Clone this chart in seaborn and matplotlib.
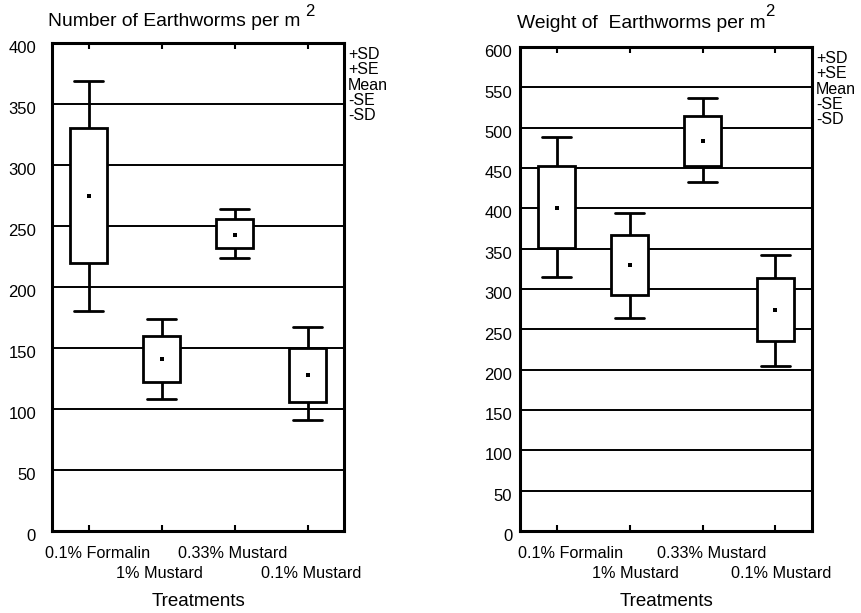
import numpy as np
import pandas as pd
import matplotlib
matplotlib.use("Agg")
import matplotlib.pyplot as plt
import seaborn as sns
from matplotlib.transforms import ScaledTranslation

# ---- data ----
treatments = ["0.1% Formalin", "1% Mustard", "0.33% Mustard", "0.1% Mustard"]

num_minus_sd = [180, 108, 224, 91]
num_minus_se = [220, 122, 232, 106]
num_mean     = [275, 141, 243, 128]
num_plus_se  = [330, 160, 256, 150]
num_plus_sd  = [369, 174, 264, 167]

wt_minus_sd = [315, 264, 433, 204]
wt_minus_se = [351, 292, 452, 236]
wt_mean     = [400, 330, 484, 274]
wt_plus_se  = [452, 367, 515, 314]
wt_plus_sd  = [489, 394, 537, 342]

num_ticks = [0, 50, 100, 150, 200, 250, 300, 350, 400]
wt_ticks = [0, 50, 100, 150, 200, 250, 300, 350, 400, 450, 500, 550, 600]

legend_text = "+SD\n+SE\nMean\n-SE\n-SD"
num_title = "Number of Earthworms per m"
wt_title = "Weight of  Earthworms per m"


def stats_frame(msd, mse, mean, pse, psd):
    rows = []
    for i, t in enumerate(treatments):
        for v in (msd[i], mse[i], mean[i], pse[i], psd[i]):
            rows.append({"Treatment": t, "value": v})
    return pd.DataFrame(rows)


sns.set_theme(style="white")
plt.rcParams["font.family"] = ["Liberation Sans", "DejaVu Sans"]

W, H = 862, 613
fig = plt.figure(figsize=(W / 100, H / 100), dpi=100)


def px_axes(x0, y0, x1, y1):
    return fig.add_axes([x0 / W, 1 - y1 / H, (x1 - x0) / W, (y1 - y0) / H])


ax1 = px_axes(52, 43, 344, 531)
ax2 = px_axes(520, 47, 812, 531)

panels = [
    (ax1, stats_frame(num_minus_sd, num_minus_se, num_mean, num_plus_se, num_plus_sd),
     num_mean, num_ticks, 11.5, [9, -2, -2, 4]),
    (ax2, stats_frame(wt_minus_sd, wt_minus_se, wt_mean, wt_plus_se, wt_plus_sd),
     wt_mean, wt_ticks, 5.5, [14, 6, 9, 6]),
]

for ax, df, means, ticks, ypad, xoffs in panels:
    ax.set_axisbelow(True)
    sns.boxplot(data=df, x="Treatment", y="value", order=treatments, ax=ax,
                whis=(0, 100), width=0.5, color="white", linecolor="black",
                linewidth=2.0, saturation=1, showfliers=False,
                medianprops={"visible": False}, capwidths=0.4)
    sns.scatterplot(x=treatments, y=means, ax=ax, marker="s", s=10,
                    color="black", edgecolor="black", linewidth=0, zorder=5)
    ax.set_xlim(-0.5, 3.5)
    ax.set_ylim(ticks[0], ticks[-1])
    ax.set_yticks(ticks)
    ax.set_yticklabels([str(t) for t in ticks])
    ax.yaxis.grid(True, color="black", linewidth=1.4)
    ax.xaxis.grid(False)
    ax.set_xticks(range(len(treatments)))
    ax.set_xticklabels(["" for _ in treatments])
    ax.tick_params(axis="x", direction="in", length=4, width=1.5,
                   top=True, bottom=True, color="black")
    ax.tick_params(axis="y", length=0, pad=ypad, labelsize=12, labelcolor="black")
    for lab in ax.get_yticklabels():
        lab.set_transform(lab.get_transform() + ScaledTranslation(0, -3 / 72, fig.dpi_scale_trans))
    for s in ax.spines.values():
        s.set_visible(True)
        s.set_color("black")
        s.set_linewidth(2.2)
    ax.set_xlabel("")
    ax.set_ylabel("")
    # staggered category labels
    for i, t in enumerate(treatments):
        ax.annotate(t, xy=(i, 0), xycoords=("data", "axes fraction"),
                    xytext=(xoffs[i], -22 if i % 2 == 0 else -43), textcoords="offset pixels",
                    ha="center", va="center", fontsize=11.7, color="black")
    ax.annotate("Treatments", xy=(0.5, 0), xycoords="axes fraction",
                xytext=(0, -70), textcoords="offset pixels",
                ha="center", va="center", fontsize=13.5, color="black")
    ax.annotate(legend_text, xy=(1, 1), xycoords="axes fraction",
                xytext=(4, -4), textcoords="offset pixels",
                ha="left", va="top", fontsize=11.5, linespacing=1.03, color="black")

# titles with superscript
t1 = fig.text(48 / W, 1 - 22 / H, num_title, ha="left", va="center",
              fontsize=13.9, color="black")
fig.text(305 / W, 1 - 11 / H, "2", ha="left", va="center", fontsize=12, color="black")
t2 = fig.text(517 / W, 1 - 23 / H, wt_title, ha="left", va="center",
              fontsize=13.9, color="black")
fig.text(765 / W, 1 - 12 / H, "2", ha="left", va="center", fontsize=12, color="black")

fig.savefig("out.png", dpi=100, facecolor="white")
